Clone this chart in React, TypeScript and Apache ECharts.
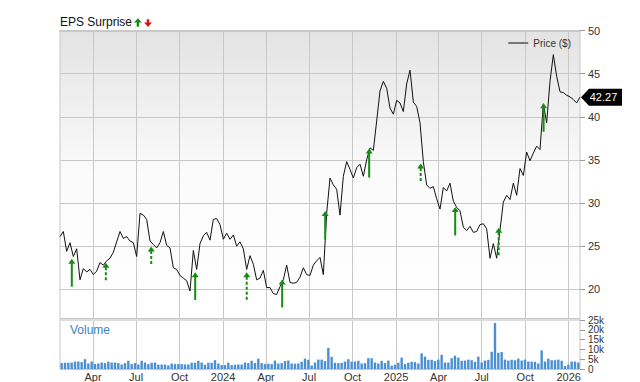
import React, { useEffect, useRef } from 'react';
import * as echarts from 'echarts';

const toTs = (s: string) => {
  const [y, m, d] = s.split('-').map(Number);
  return new Date(y, m - 1, d).getTime();
};

const START = toTs('2023-01-21');
const END = toTs('2026-01-25');

// weekly closing prices ($), evenly spaced from START to END
const priceValues = [
  26.1, 26.7, 24.4, 25.4, 23.8, 24.7, 21.1, 22.4, 22.0, 22.3,
  21.7, 22.1, 23.1, 22.8, 23.3, 23.6, 24.3, 25.5, 26.7, 25.9,
  26.1, 25.6, 25.4, 23.8, 28.8, 28.6, 28.1, 25.6, 25.2, 24.8,
  25.4, 26.7, 25.1, 24.8, 22.5, 22.3, 21.6, 21.3, 21.0, 19.8,
  24.5, 22.3, 25.3, 26.2, 26.6, 25.7, 28.1, 28.2, 27.5, 25.8,
  26.5, 25.8, 26.3, 25.0, 25.5, 24.7, 22.3, 23.9, 22.9, 21.1,
  21.3, 22.2, 20.2, 20.2, 19.5, 19.4, 20.3, 21.1, 22.8, 20.8,
  20.7, 20.8, 21.4, 22.5, 21.7, 21.6, 22.8, 23.3, 23.7, 21.7,
  28.8, 32.9, 32.1, 31.6, 28.6, 33.1, 34.8, 33.9, 32.9, 34.1,
  34.5, 33.1, 35.0, 36.4, 36.1, 39.5, 43.0, 44.1, 43.3, 41.0,
  40.3, 41.9, 41.6, 40.6, 43.8, 45.4, 41.7, 41.2, 39.3, 34.8,
  32.1, 31.7, 31.9, 30.5, 29.3, 31.8, 31.4, 32.3, 30.2, 29.5,
  29.1, 27.2, 26.8, 27.3, 26.6, 26.7, 27.5, 27.6, 27.0, 23.6,
  25.3, 23.6, 26.9, 30.1, 30.9, 30.4, 32.3, 30.9, 34.0, 33.2,
  35.9, 34.9, 35.8, 36.6, 36.2, 41.5, 39.3, 44.1, 47.2, 44.7,
  42.9, 42.8, 42.5, 42.3, 42.0, 41.6, 42.27,
];

// weekly volume (thousands)
const volumeK = [
  3.0, 3.2, 3.2, 3.3, 3.8, 3.8, 3.5, 5.0, 2.8, 3.8,
  2.5, 2.8, 3.3, 3.0, 3.8, 3.3, 3.3, 3.0, 2.3, 3.0,
  4.2, 2.5, 3.0, 2.3, 4.2, 3.3, 2.5, 3.2, 3.3, 2.2,
  2.3, 2.3, 1.8, 2.8, 2.5, 2.5, 2.5, 2.3, 2.3, 3.2,
  3.2, 4.2, 3.3, 2.2, 3.2, 3.2, 4.5, 2.8, 2.0, 2.0,
  3.2, 2.0, 2.2, 2.3, 2.3, 3.3, 3.0, 4.2, 3.0, 5.3,
  3.0, 2.5, 2.7, 2.5, 4.3, 2.8, 3.0, 4.0, 4.3, 2.8,
  2.7, 2.8, 3.7, 5.3, 4.7, 1.8, 3.3, 4.8, 4.8, 4.0,
  10.8, 6.2, 3.2, 3.0, 3.2, 3.8, 5.0, 3.8, 3.8, 4.2,
  2.8, 3.0, 5.5, 5.5, 3.3, 2.8, 4.2, 3.0, 4.3, 1.7,
  2.2, 3.2, 5.8, 2.5, 3.2, 3.7, 3.5, 2.8, 8.0, 6.3,
  4.7, 4.7, 4.0, 4.8, 7.2, 3.3, 3.3, 5.5, 6.8, 5.8,
  4.2, 4.3, 4.8, 4.5, 3.7, 6.3, 3.3, 4.3, 4.7, 8.8,
  23.5, 8.3, 8.7, 4.8, 4.3, 4.7, 4.5, 5.3, 4.3, 4.8,
  3.8, 3.8, 3.7, 2.8, 9.5, 3.8, 5.3, 4.5, 4.5, 4.8,
  4.2, 1.5, 2.2, 3.8, 3.8, 3.3,
];

const quarterDates = [
  '2023-04-01', '2023-07-01', '2023-10-01', '2024-01-01',
  '2024-04-01', '2024-07-01', '2024-10-01', '2025-01-01',
  '2025-04-01', '2025-07-01', '2025-10-01', '2026-01-01',
];
const quarterLabels = ['Apr', 'Jul', 'Oct', '2024', 'Apr', 'Jul', 'Oct', '2025', 'Apr', 'Jul', 'Oct', '2026'];

const priceTicks = [20, 25, 30, 35, 40, 45, 50];
const volumeTicks = [0, 5, 10, 15, 20, 25];

// EPS surprise arrows
const surpriseDates = [
  '2023-02-15', '2023-04-28', '2023-08-02', '2023-11-03', '2024-02-20', '2024-05-05',
  '2024-08-04', '2024-11-05', '2025-02-22', '2025-05-06', '2025-08-06', '2025-11-09',
];
const surpriseTip = [23.55, 23.07, 24.97, 21.98, 21.98, 21.13, 29.07, 36.33, 34.58, 29.53, 27.14, 41.56];
const surpriseTail = [20.3, 20.93, 22.84, 18.77, 18.77, 17.9, 25.78, 32.95, 32.37, 26.24, 23.8, 38.26];
const surpriseDashed = [0, 1, 1, 0, 1, 0, 0, 0, 1, 0, 1, 0];

const GRID = '#c8c8c8';
const GREEN = '#148c14';
const FONT = 'Liberation Sans, Arial, sans-serif';

export default function App() {
  const ref = useRef<HTMLDivElement>(null);

  useEffect(() => {
    document.body.style.margin = '0';
    if (!ref.current) return;
    const chart = echarts.init(ref.current, null, { renderer: 'svg' });

    const step = (END - START) / (priceValues.length - 1);
    const priceData = priceValues.map((v, i) => [START + i * step, v]);
    const volumeData = volumeK.map((v, i) => [START + (i + 0.5) * step, v]);
    const qTs = quarterDates.map(toTs);
    const labelFor = (v: number) => {
      const i = qTs.findIndex((q) => Math.abs(q - v) < 43200000);
      return i >= 0 ? quarterLabels[i] : '';
    };
    const arrowData = surpriseDates.map((d, i) => [toTs(d), surpriseTip[i], surpriseTail[i], surpriseDashed[i]]);

    const gridTop = 30.5;
    const gridH = 288;
    const pxPerUnit = (289.3 - gridTop) / 30;
    const priceMin = 50 - gridH / pxPerUnit;

    const xBase = (gridIndex: number) => ({
      type: 'value',
      gridIndex,
      min: START,
      max: END,
      scale: true,
      axisLine: { show: false, onZero: false },
      axisTick: { show: false, customValues: qTs },
      axisLabel: { show: false, customValues: qTs, formatter: labelFor },
      splitLine: { show: true, lineStyle: { color: GRID, width: 1 } },
    });

    chart.setOption({
      animation: false,
      textStyle: { fontFamily: FONT },
      grid: [
        {
          left: 60, right: 60, top: gridTop, height: gridH, show: true,
          borderWidth: 1, borderColor: GRID,
          backgroundColor: new echarts.graphic.LinearGradient(0, 0, 0, 1, [
            { offset: 0, color: '#e3e3e3' },
            { offset: 0.5, color: '#fbfbfb' },
            { offset: 1, color: '#ffffff' },
          ]),
        },
        { left: 60, right: 60, top: 320, height: 50, show: true, borderWidth: 1, borderColor: GRID, backgroundColor: '#fff' },
      ],
      xAxis: [
        { ...xBase(0), position: 'top', axisLine: { show: true, onZero: false, lineStyle: { color: GRID, width: 2 } } },
        {
          ...xBase(1), position: 'bottom',
          axisLine: { show: true, onZero: false, lineStyle: { color: GRID, width: 1 } },
          axisLabel: { show: true, customValues: qTs, formatter: labelFor, fontSize: 11, color: '#333', margin: 2, fontFamily: FONT },
        },
        {
          ...xBase(1), position: 'top',
          axisLine: { show: true, onZero: false, lineStyle: { color: '#dddddd', width: 2 } },
          splitLine: { show: false },
        },
      ],
      yAxis: [
        {
          type: 'value', gridIndex: 0, position: 'right', min: priceMin, max: 50,
          axisLine: { show: false },
          axisTick: { show: true, length: 5, customValues: priceTicks, lineStyle: { color: '#999' } },
          axisLabel: { show: true, customValues: priceTicks, showMinLabel: true, showMaxLabel: true, fontSize: 11, color: '#333', margin: 8, fontFamily: FONT },
          splitLine: { show: true, showMinLine: true, lineStyle: { color: GRID, width: 1 } },
        },
        {
          type: 'value', gridIndex: 1, position: 'right', min: 0, max: 25,
          axisLine: { show: false },
          axisTick: { show: true, length: 5, customValues: volumeTicks, lineStyle: { color: '#999' } },
          axisLabel: {
            show: true, customValues: volumeTicks, showMinLabel: true, showMaxLabel: true,
            fontSize: 10, lineHeight: 10, color: '#333', margin: 8, fontFamily: FONT,
            formatter: (v: number) => (v === 0 ? '0' : v + 'k'),
          },
          splitLine: { show: false },
        },
      ],
      legend: {
        right: 64, top: 33, itemWidth: 20, itemHeight: 2, itemGap: 5,
        textStyle: { fontSize: 10, color: '#333', fontFamily: FONT },
        data: [{ name: 'Price ($)', icon: 'rect', itemStyle: { color: '#777' }, lineStyle: { color: '#777' } }],
      },
      graphic: [
        {
          type: 'text', x: 60, y: 22,
          style: { text: 'EPS Surprise', font: '12px ' + FONT, fill: '#111', textVerticalAlign: 'middle' },
        },
        {
          type: 'polygon',
          shape: { points: [[137.9, 18.2], [141.8, 22.6], [139.1, 22.6], [139.1, 26.8], [136.7, 26.8], [136.7, 22.6], [134, 22.6]] },
          style: { fill: GREEN },
        },
        {
          type: 'polygon',
          shape: { points: [[146.8, 19.2], [149.2, 19.2], [149.2, 22.6], [151.9, 22.6], [148, 26.9], [144.1, 22.6], [146.8, 22.6]] },
          style: { fill: '#e01010' },
        },
        {
          type: 'text', x: 70, y: 330,
          style: { text: 'Volume', font: '12px ' + FONT, fill: '#3a84c4', textVerticalAlign: 'middle' },
        },
      ],
      series: [
        {
          name: 'Price ($)', type: 'line', xAxisIndex: 0, yAxisIndex: 0,
          data: priceData, symbol: 'none', showSymbol: false, clip: false, z: 3,
          lineStyle: { color: '#111', width: 1 }, itemStyle: { color: '#777' },
          markLine: {
            silent: true, symbol: 'none', label: { show: false },
            lineStyle: { color: GRID, width: 1, type: 'solid' },
            z: 1,
            data: [{ yAxis: priceTicks[0] }],
          },
          markPoint: {
            symbol: 'path://M0,8.5 L8,0 L41,0 L41,17 L8,17 Z',
            symbolSize: [41, 17],
            symbolOffset: [21.5, 0],
            itemStyle: { color: '#000' },
            label: { show: true, position: 'inside', color: '#fff', fontSize: 11, fontFamily: FONT, offset: [2, 0], formatter: () => String(priceValues[priceValues.length - 1]) },
            data: [{ coord: priceData[priceData.length - 1], value: priceValues[priceValues.length - 1] }],
          },
        },
        {
          name: 'EPS', type: 'custom', xAxisIndex: 0, yAxisIndex: 0, z: 4,
          dimensions: ['t', 'tip', 'tail', 'dashed'],
          encode: { x: 0, y: [1, 2] },
          data: arrowData,
          renderItem: (params: any, api: any) => {
            const t = api.value(0);
            const tip = api.coord([t, api.value(1)]);
            const tail = api.coord([t, api.value(2)]);
            const dashed = api.value(3) === 1;
            const hw = 3.5, hh = 5;
            const x = tip[0];
            return {
              type: 'group',
              children: [
                {
                  type: 'line',
                  shape: { x1: x, y1: tip[1] + hh - 0.5, x2: x, y2: tail[1] },
                  style: { stroke: GREEN, lineWidth: 2, lineDash: dashed ? [3, 2] : null },
                },
                {
                  type: 'polygon',
                  shape: { points: [[x, tip[1]], [x + hw, tip[1] + hh], [x - hw, tip[1] + hh]] },
                  style: { fill: GREEN },
                },
              ],
            };
          },
        },
        {
          name: 'Volume', type: 'bar', xAxisIndex: 1, yAxisIndex: 1,
          data: volumeData, barWidth: 2.4,
          itemStyle: { color: '#4a8fd1' },
        },
      ],
    });

    return () => chart.dispose();
  }, []);

  return <div ref={ref} style={{ width: 640, height: 382 }} />;
}
